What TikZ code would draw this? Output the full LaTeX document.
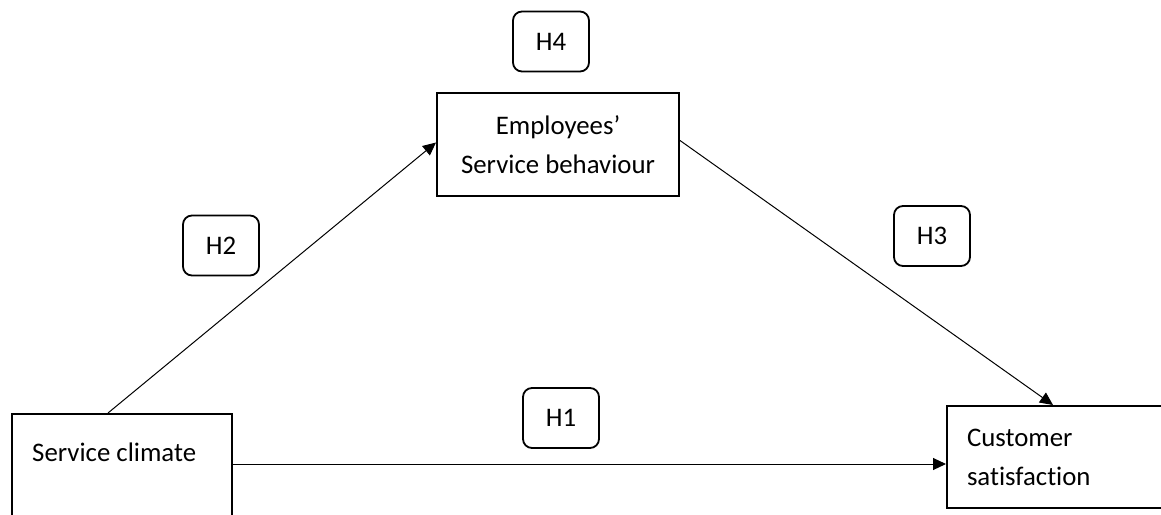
\documentclass[tikz,border=0pt]{standalone}
\usepackage{fontspec}
\setmainfont{Carlito}[Ligatures={NoCommon}]
\usetikzlibrary{arrows.meta,calc}
\tikzset{
  box/.style={draw=black, line width=2pt, fill=white, inner sep=0pt},
  hbox/.style={draw=black, line width=1.8pt, rounded corners=9pt, minimum width=76pt, minimum height=60pt, inner sep=0pt},
  txt/.style={inner sep=0pt, anchor=base west},
  arr/.style={draw=black, line width=1pt, -{Triangle[length=13pt,width=12pt]}}
}
\begin{document}
\begin{tikzpicture}[x=1pt,y=-1pt,font=\fontsize{26.8}{39}\selectfont]
\useasboundingbox (0,0) rectangle (1161,514);
% main boxes
\node[box, anchor=north west, minimum width=220pt, minimum height=117pt] (sc) at (11,413) {};
\node[txt] (sctext) at (32,461) {Service climate};
\node[box, minimum width=242pt, minimum height=103pt, align=center] (emp) at (558,144.5) {Employees’\\Service behaviour};
\node[box, anchor=north west, minimum width=224pt, minimum height=102pt, text width=184pt, inner xsep=20pt, align=left] (cs) at (946,405) {Customer\\satisfaction};
% hypothesis labels
\node[hbox] (h4) at (551,41.5) {H4};
\node[hbox] (h2) at (221,245.5) {H2};
\node[hbox] (h3) at (932,236) {H3};
\node[hbox] (h1) at (561,418) {H1};
% connectors
\coordinate (a1) at ([xshift=-14pt]sc.north);
\draw[arr] (a1) -- ([yshift=2pt]emp.west);
\coordinate (a2) at ([yshift=4pt]emp.east);
\draw[arr] (a2) -- ([xshift=-6pt]cs.north);
\coordinate (a3) at ([yshift=8.5pt]sc.east);
\draw[arr] (a3) -- (a3 -| cs.west);
\end{tikzpicture}
\end{document}
